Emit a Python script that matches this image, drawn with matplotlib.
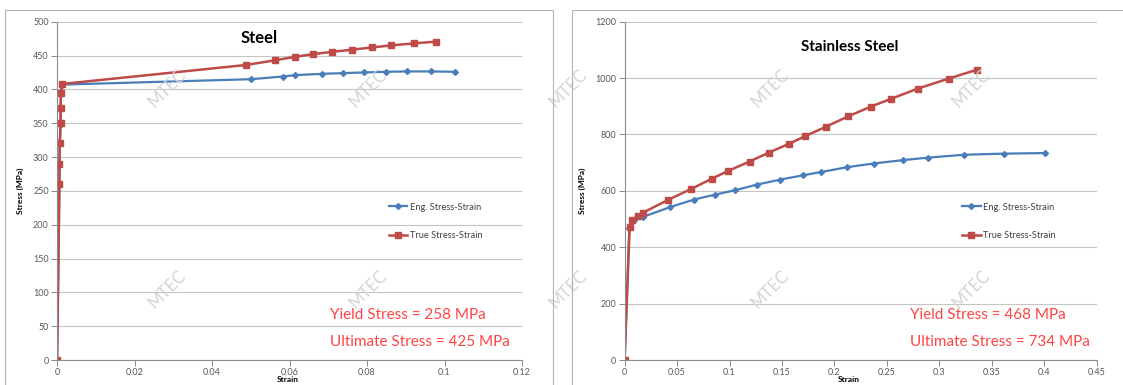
import matplotlib
matplotlib.use("Agg")
import matplotlib.pyplot as plt
from matplotlib.patches import Rectangle
from matplotlib.ticker import FuncFormatter

# Steel data (strain, stress in MPa)
steel_eng_strain = [0, 0.0006, 0.0006, 0.0007, 0.0009, 0.0009, 0.0010, 0.0012,
                    0.050, 0.0583, 0.0613, 0.0685, 0.0739, 0.0793, 0.0848, 0.0903, 0.0965, 0.1028]
steel_eng_stress = [0, 260, 290, 320, 349, 372, 394, 407,
                    415, 419, 421, 423, 424, 425, 426, 426.5, 426.5, 426]
steel_true_strain = [0, 0.0006, 0.0006, 0.0007, 0.0009, 0.0009, 0.0010, 0.0013,
                     0.0487, 0.0563, 0.0613, 0.066, 0.071, 0.076, 0.0813, 0.0863, 0.0922, 0.0977]
steel_true_stress = [0, 260, 290, 320, 350, 373, 395, 408,
                     436, 443, 448, 452, 455.5, 458.5, 462, 465, 468, 470.5]

# Stainless steel data
ss_eng_strain = [0, 0.0045, 0.0087, 0.0171, 0.043, 0.066, 0.0866, 0.105, 0.126, 0.1485,
                 0.1697, 0.1875, 0.2122, 0.2372, 0.2652, 0.2895, 0.3234, 0.3617, 0.4007]
ss_eng_stress = [0, 468, 495, 507, 542, 569, 587, 602, 622, 640,
                 655, 667, 684, 697, 709, 718, 728, 732, 734]
ss_true_strain = [0, 0.0048, 0.0074, 0.0129, 0.0177, 0.041, 0.063, 0.0832, 0.0982, 0.1191,
                  0.1376, 0.1567, 0.1721, 0.1916, 0.2129, 0.2348, 0.2543, 0.2796, 0.3087, 0.336]
ss_true_stress = [0, 471, 497, 512, 523, 567, 606, 643, 670, 704,
                  736, 767, 794, 827, 864, 899, 927, 963, 998, 1030]

blue = "#4a7ebb"
red = "#be4b48"
gray_txt = "#595959"
font = "Lato"

fig = plt.figure(figsize=(11.23, 3.85), dpi=100)

# panel borders
fig.patches.append(Rectangle((5 / 1123, -0.1), 548 / 1123, 1.1 - 10 / 385,
                             transform=fig.transFigure, fill=False, ec="#b4b4b4", lw=0.8))
fig.patches.append(Rectangle((571.7 / 1123, -0.1), 0.6, 1.1 - 10 / 385,
                             transform=fig.transFigure, fill=False, ec="#b4b4b4", lw=0.8))

# watermarks
for wx in [167, 368, 568, 770, 971]:
    for wy in [88, 289]:
        fig.text(wx / 1123, 1 - wy / 385, "MTEC", rotation=45, ha="center", va="center",
                 fontsize=12, color="#d4d4d4", family=font, zorder=0)

ax1 = fig.add_axes([57.1 / 1123, 1 - 360 / 385, 464.9 / 1123, 338.3 / 385])
ax2 = fig.add_axes([624.6 / 1123, 1 - 360 / 385, 472.2 / 1123, 338.3 / 385])
for ax in (ax1, ax2):
    ax.patch.set_alpha(0)


def style(ax, xmax, ymax, xstep, ystep):
    ax.set_xlim(0, xmax)
    ax.set_ylim(0, ymax)
    ax.set_xticks([i * xstep for i in range(int(round(xmax / xstep)) + 1)])
    ax.set_yticks([i * ystep for i in range(int(round(ymax / ystep)) + 1)])
    ax.xaxis.set_major_formatter(FuncFormatter(lambda v, p: "%g" % round(v, 4)))
    for s in ["top", "right"]:
        ax.spines[s].set_visible(False)
    for s in ["left", "bottom"]:
        ax.spines[s].set_color("#8c8c8c")
        ax.spines[s].set_linewidth(0.8)
    ax.tick_params(length=4, width=0.7, color="#8c8c8c", labelsize=6.5,
                   labelcolor=gray_txt, pad=2)
    for lab in ax.get_xticklabels() + ax.get_yticklabels():
        lab.set_family(font)
    ax.yaxis.grid(True, color="#c4c4c4", lw=0.8)
    ax.set_axisbelow(True)
    ax.set_xlabel("Strain", fontsize=6, fontweight="bold", family=font, va="center")
    ax.set_ylabel("Stress (MPa)", fontsize=6, fontweight="bold", family=font)


style(ax1, 0.12, 500, 0.02, 50)
style(ax2, 0.45, 1200, 0.05, 200)

ax1.plot(steel_eng_strain, steel_eng_stress, color=blue, lw=1.6, marker="D", ms=3,
         label="Eng. Stress-Strain")
ax1.plot(steel_true_strain, steel_true_stress, color=red, lw=1.8, marker="s", ms=4.5,
         label="True Stress-Strain")
ax2.plot(ss_eng_strain, ss_eng_stress, color=blue, lw=1.6, marker="D", ms=3,
         label="Eng. Stress-Strain")
ax2.plot(ss_true_strain, ss_true_stress, color=red, lw=1.8, marker="s", ms=4.5,
         label="True Stress-Strain")

ax1.yaxis.set_label_coords(-0.071, 0.5)
ax2.yaxis.set_label_coords(-0.082, 0.5)
ax1.xaxis.set_label_coords(0.497, -0.058)
ax2.xaxis.set_label_coords(0.475, -0.058)

ax1.text(0.4356, 0.952, "Steel", transform=ax1.transAxes, ha="center", va="center",
         fontsize=12, fontweight="bold", family=font)
ax2.text(0.477, 0.926, "Stainless Steel", transform=ax2.transAxes, ha="center", va="center",
         fontsize=11, fontweight="bold", family=font)

for ax, lx in ((ax1, 0.713), (ax2, 0.7145)):
    leg = ax.legend(loc="upper left", bbox_to_anchor=(lx, 0.465), frameon=False,
                    labelspacing=2.1, handlelength=2.0, handletextpad=0.3,
                    borderpad=0, borderaxespad=0, prop={"family": font, "size": 6.7})
    for t in leg.get_texts():
        t.set_color("#404040")

ax1.text(0.587, 0.133, "Yield Stress = 258 MPa", transform=ax1.transAxes, va="center",
         fontsize=11, color="#ff4444", family=font)
ax1.text(0.587, 0.054, "Ultimate Stress = 425 MPa", transform=ax1.transAxes, va="center",
         fontsize=11, color="#ff4444", family=font)
ax2.text(0.604, 0.133, "Yield Stress = 468 MPa", transform=ax2.transAxes, va="center",
         fontsize=11, color="#ff4444", family=font)
ax2.text(0.604, 0.054, "Ultimate Stress = 734 MPa", transform=ax2.transAxes, va="center",
         fontsize=11, color="#ff4444", family=font)

fig.savefig("out.png", dpi=100)
